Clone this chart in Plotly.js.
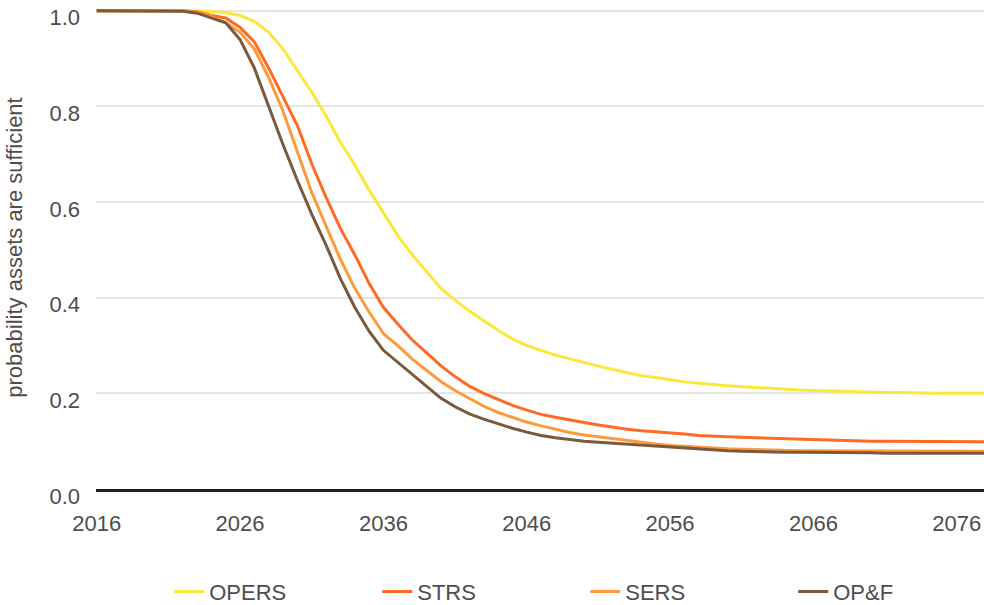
<!DOCTYPE html>
<html>
<head>
<meta charset="utf-8">
<script src="https://cdn.plot.ly/plotly-3.0.1.min.js"></script>
<style>html,body{margin:0;padding:0;background:#fff;}#chart{width:984px;height:605px;}</style>
</head>
<body>
<div id="chart"></div>
<script>
var years = [];
for (var y = 2016; y <= 2078; y++) years.push(y);

var seriesNames = ["OPERS", "STRS", "SERS", "OP&F"];

var opers = [1.0,1.0,1.0,1.0,1.0,1.0,1.0,1.0,0.999,0.996,
  0.99,0.978,0.955,0.92,0.875,0.83,0.78,0.725,0.678,0.625,
  0.578,0.53,0.49,0.455,0.42,0.395,0.372,0.352,0.332,0.314,
  0.300,0.290,0.280,0.272,0.264,0.257,0.250,0.243,0.237,0.233,
  0.228,0.224,0.221,0.218,0.216,0.214,0.212,0.210,0.208,0.207,
  0.206,0.205,0.204,0.203,0.203,0.202,0.202,0.201,0.201,0.200,
  0.200,0.200,0.200];

var strs = [1.0,1.0,1.0,1.0,1.0,1.0,1.0,0.998,0.99,0.985,
  0.965,0.935,0.88,0.82,0.76,0.68,0.61,0.545,0.49,0.43,
  0.38,0.345,0.312,0.285,0.258,0.235,0.215,0.200,0.187,0.175,
  0.165,0.156,0.150,0.144,0.139,0.134,0.129,0.125,0.122,0.120,
  0.118,0.115,0.112,0.110,0.109,0.108,0.107,0.106,0.105,0.104,
  0.103,0.102,0.101,0.101,0.100,0.100,0.100,0.100,0.100,0.100,
  0.099,0.099,0.099];

var sers = [1.0,1.0,1.0,1.0,1.0,1.0,1.0,0.997,0.988,0.975,
  0.955,0.92,0.86,0.79,0.705,0.62,0.55,0.48,0.42,0.37,
  0.325,0.30,0.272,0.248,0.225,0.206,0.189,0.173,0.160,0.150,
  0.140,0.132,0.125,0.118,0.113,0.109,0.105,0.101,0.097,0.094,
  0.091,0.089,0.087,0.085,0.084,0.083,0.082,0.081,0.081,0.080,
  0.080,0.080,0.080,0.080,0.080,0.080,0.079,0.079,0.079,0.079,
  0.079,0.079,0.079];

var opf = [1.0,1.0,1.0,1.0,1.0,1.0,0.999,0.995,0.985,0.975,
  0.94,0.88,0.80,0.72,0.645,0.575,0.51,0.44,0.38,0.33,
  0.29,0.265,0.24,0.215,0.19,0.172,0.157,0.146,0.136,0.127,
  0.119,0.112,0.107,0.103,0.100,0.098,0.096,0.094,0.092,0.089,
  0.087,0.085,0.083,0.081,0.080,0.079,0.078,0.078,0.077,0.077,
  0.077,0.076,0.076,0.076,0.076,0.075,0.075,0.075,0.075,0.075,
  0.075,0.075,0.075];

var yTickVals = [0, 0.2, 0.4, 0.6, 0.8, 1.0];
var yTickText = ["0.0", "0.2", "0.4", "0.6", "0.8", "1.0"];
var xTickVals = [2016, 2026, 2036, 2046, 2056, 2066, 2076];

var colors = ["#FCE83A", "#FF6B24", "#FF9A3C", "#7A5A3E"];
var allSeries = [opers, strs, sers, opf];

var FONT = "'Liberation Sans Narrow', 'Arial Narrow', sans-serif";
var TXT = "#4d4d4d";
var FS = 22;

var traces = allSeries.map(function (s, i) {
  return {
    x: years, y: s, name: seriesNames[i], type: "scatter", mode: "lines",
    line: {color: colors[i], width: 3}
  };
});

var layout = {
  width: 984, height: 605,
  margin: {l: 96, r: 0, t: 6, b: 116, autoexpand: false},
  paper_bgcolor: "#fff", plot_bgcolor: "#fff",
  font: {family: FONT, size: FS, color: TXT},
  showlegend: true,
  legend: {
    orientation: "h", xref: "container", x: 0.172, xanchor: "left",
    yref: "container", y: 0.022, yanchor: "middle",
    entrywidth: 163, entrywidthmode: "pixels",
    font: {family: FONT, size: FS, color: TXT}
  },
  xaxis: {
    range: [2015.95, 2077.9], tickvals: xTickVals, ticks: "", showgrid: false,
    zeroline: false, showline: true, linecolor: "#231f20", linewidth: 3,
    ticklabelstandoff: 13, tickfont: {size: FS, color: TXT}
  },
  yaxis: {
    range: [0, 1.01], tickvals: yTickVals, ticktext: yTickText, ticks: "",
    showgrid: true, gridcolor: "#e6e6e6", gridwidth: 2, zeroline: false,
    showline: false, ticklabelstandoff: 15, ticklabelshift: 7, ticklabeloverflow: "allow",
    tickfont: {size: FS, color: TXT},
    title: {text: "probability assets are sufficient", font: {size: FS, color: TXT}, standoff: 20}
  }
};

Plotly.newPlot("chart", traces, layout, {displayModeBar: false, staticPlot: true});
</script>
</body>
</html>
